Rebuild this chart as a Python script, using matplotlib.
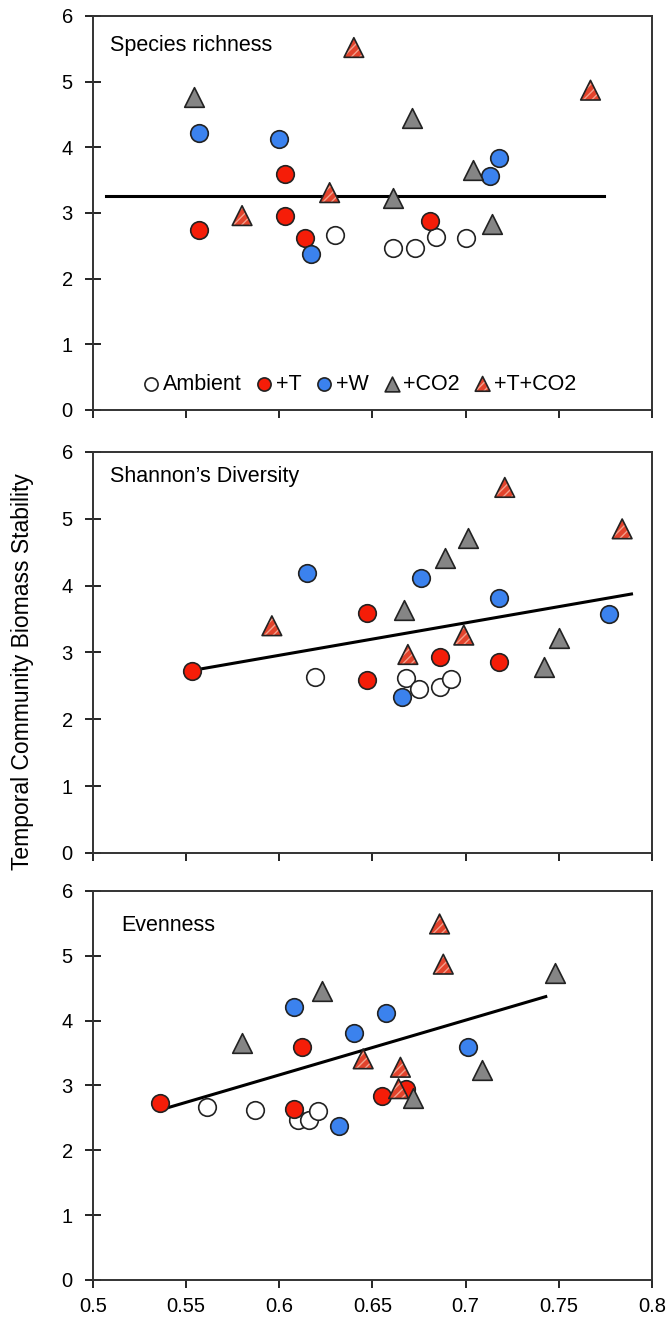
import numpy as np
import matplotlib
matplotlib.use('Agg')
import matplotlib.pyplot as plt

plt.rcParams['font.family'] = ['Liberation Sans', 'DejaVu Sans']

# ---- data ----
# Species richness panel
sr_amb_x = [0.630, 0.661, 0.673, 0.684, 0.700]
sr_amb_y = [2.67, 2.47, 2.47, 2.64, 2.62]
sr_t_x = [0.557, 0.603, 0.603, 0.614, 0.681]
sr_t_y = [2.74, 3.60, 2.96, 2.62, 2.88]
sr_w_x = [0.557, 0.600, 0.617, 0.713, 0.718]
sr_w_y = [4.22, 4.13, 2.37, 3.57, 3.83]
sr_c_x = [0.554, 0.661, 0.671, 0.704, 0.714]
sr_c_y = [4.76, 3.23, 4.45, 3.66, 2.83]
sr_tc_x = [0.580, 0.627, 0.640, 0.767]
sr_tc_y = [2.96, 3.31, 5.52, 4.87]
sr_fit_x = [0.507, 0.774]
sr_fit_y = [3.26, 3.26]

# Shannon's diversity panel
sh_amb_x = [0.619, 0.668, 0.675, 0.686, 0.692]
sh_amb_y = [2.64, 2.62, 2.45, 2.48, 2.61]
sh_t_x = [0.553, 0.647, 0.647, 0.686, 0.718]
sh_t_y = [2.73, 3.59, 2.59, 2.93, 2.85]
sh_w_x = [0.615, 0.666, 0.676, 0.718, 0.777]
sh_w_y = [4.19, 2.34, 4.11, 3.82, 3.58]
sh_c_x = [0.667, 0.689, 0.701, 0.742, 0.750]
sh_c_y = [3.63, 4.41, 4.72, 2.79, 3.21]
sh_tc_x = [0.596, 0.669, 0.699, 0.721, 0.784]
sh_tc_y = [3.40, 2.97, 3.26, 5.47, 4.85]
sh_fit_x = [0.553, 0.789]
sh_fit_y = [2.73, 3.875]

# Evenness panel
ev_amb_x = [0.561, 0.587, 0.610, 0.616, 0.621]
ev_amb_y = [2.67, 2.62, 2.46, 2.46, 2.61]
ev_t_x = [0.536, 0.608, 0.612, 0.655, 0.668]
ev_t_y = [2.73, 2.63, 3.59, 2.84, 2.95]
ev_w_x = [0.608, 0.632, 0.640, 0.657, 0.701]
ev_w_y = [4.21, 2.37, 3.81, 4.12, 3.59]
ev_c_x = [0.580, 0.623, 0.672, 0.709, 0.748]
ev_c_y = [3.65, 4.45, 2.81, 3.24, 4.74]
ev_tc_x = [0.645, 0.664, 0.665, 0.686, 0.688]
ev_tc_y = [3.41, 2.95, 3.28, 5.49, 4.87]
ev_fit_x = [0.537, 0.743]
ev_fit_y = [2.63, 4.37]

titles = ['Species richness', "Shannon\u2019s Diversity", 'Evenness']
x_ticks = [0.5, 0.55, 0.6, 0.65, 0.7, 0.75, 0.8]
x_ticklabels = ['0.5', '0.55', '0.6', '0.65', '0.7', '0.75', '0.8']
y_ticks = [0, 1, 2, 3, 4, 5, 6]

panels = [
    (sr_amb_x, sr_amb_y, sr_t_x, sr_t_y, sr_w_x, sr_w_y, sr_c_x, sr_c_y, sr_tc_x, sr_tc_y, sr_fit_x, sr_fit_y),
    (sh_amb_x, sh_amb_y, sh_t_x, sh_t_y, sh_w_x, sh_w_y, sh_c_x, sh_c_y, sh_tc_x, sh_tc_y, sh_fit_x, sh_fit_y),
    (ev_amb_x, ev_amb_y, ev_t_x, ev_t_y, ev_w_x, ev_w_y, ev_c_x, ev_c_y, ev_tc_x, ev_tc_y, ev_fit_x, ev_fit_y),
]

RED = '#f51d08'
BLUE = '#3b82ee'
GRAY = '#858585'
TCRED = '#e2432c'

fig = plt.figure(figsize=(6.7, 13.22), dpi=100)
rects = [
    [0.1388, 0.6899, 0.8343, 0.2980],
    [0.1388, 0.3548, 0.8343, 0.3033],
    [0.1388, 0.0318, 0.8343, 0.2943],
]
title_pos = [(0.03, 0.924), (0.03, 0.94), (0.05, 0.91)]

S_CIRC = 160
S_TRI = 200

for i, (rect, data) in enumerate(zip(rects, panels)):
    ax_x, ax_y, t_x, t_y, w_x, w_y, c_x, c_y, tc_x, tc_y, fx, fy = data
    ax = fig.add_axes(rect)
    ax.plot(fx, fy, color='black', lw=2.2, zorder=2)
    h_amb = ax.scatter(ax_x, ax_y, s=S_CIRC, marker='o', facecolor='white',
                       edgecolor='#222222', linewidth=1.2, zorder=3)
    h_t = ax.scatter(t_x, t_y, s=S_CIRC, marker='o', facecolor=RED,
                     edgecolor='#222222', linewidth=1.2, zorder=3)
    h_w = ax.scatter(w_x, w_y, s=S_CIRC, marker='o', facecolor=BLUE,
                     edgecolor='#222222', linewidth=1.2, zorder=3)
    h_c = ax.scatter(c_x, c_y, s=S_TRI, marker='^', facecolor=GRAY,
                     edgecolor='#222222', linewidth=1.2, zorder=3)
    h_tc1 = ax.scatter(tc_x, tc_y, s=S_TRI, marker='^', facecolor=TCRED,
                       edgecolor='#f2a08c', hatch='////', linewidth=0, zorder=3)
    h_tc2 = ax.scatter(tc_x, tc_y, s=S_TRI, marker='^', facecolor='none',
                       edgecolor='#222222', linewidth=1.2, zorder=4)

    ax.set_xlim(0.5, 0.8)
    ax.set_ylim(0, 6)
    ax.set_xticks(x_ticks)
    ax.set_yticks(y_ticks)
    ax.tick_params(axis='y', direction='inout', length=11, width=1.2, labelsize=14.5, pad=9)
    ax.tick_params(axis='x', direction='out', length=6, width=1.2, labelsize=14.5, pad=6)
    if i == 2:
        ax.set_xticklabels(x_ticklabels)
    else:
        ax.set_xticklabels([])
    for sp in ax.spines.values():
        sp.set_linewidth(1.4)
        sp.set_color('#333333')
    tx, ty = title_pos[i]
    ax.text(tx, ty, titles[i], transform=ax.transAxes,
            fontsize=15.5, va='center', ha='left')

    if i == 0:
        ax.legend([h_amb, h_t, h_w, h_c, (h_tc1, h_tc2)],
                  ['Ambient', '+T', '+W', '+CO2', '+T+CO2'],
                  loc='lower left', bbox_to_anchor=(0.05, -0.01), ncol=5,
                  frameon=False, fontsize=15.5, handletextpad=0.05,
                  columnspacing=0.55, markerscale=0.75, handlelength=1.0)

fig.text(0.033, 0.492, 'Temporal Community Biomass Stability', rotation=90,
         ha='center', va='center', fontsize=16.5)

fig.savefig('out.png', dpi=100)
